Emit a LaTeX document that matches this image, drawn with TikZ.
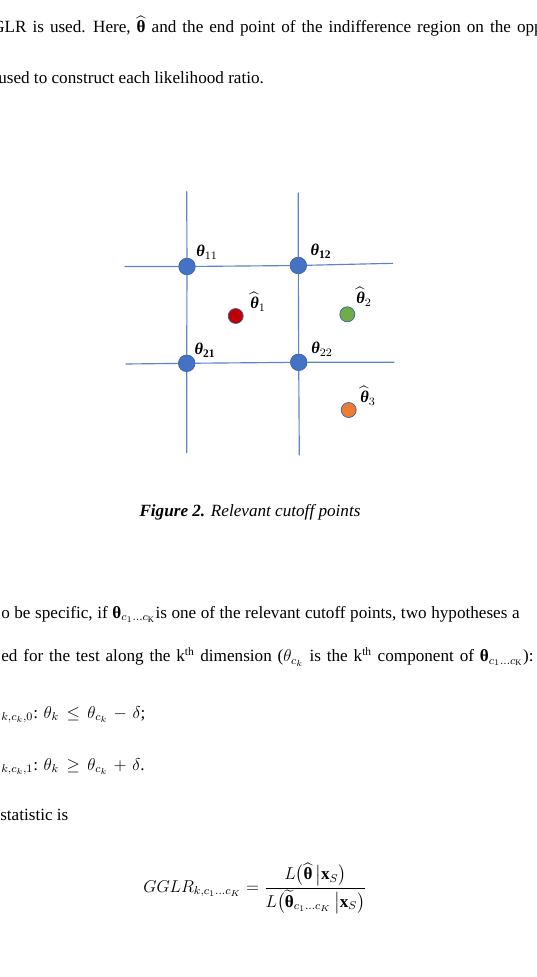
\documentclass[tikz,border=0pt]{standalone}
\usepackage{amsmath}
\usepackage{fontspec}
\setmainfont{Liberation Serif}
\usepackage{tikz}
\usetikzlibrary{positioning}

\definecolor{gridblue}{HTML}{5B85C7}
\definecolor{ptblue}{HTML}{4472C4}
\definecolor{ptedge}{HTML}{3A62A8}
\definecolor{ptred}{HTML}{C00000}
\definecolor{ptgreen}{HTML}{70AD47}
\definecolor{ptorange}{HTML}{ED7D31}

\newcommand{\btheta}{\text{\normalfont\bfseries θ}}
\newcommand{\bitheta}{\text{\normalfont\bfseries\itshape θ}}
% wider spacing round relations and binary signs
\newcommand{\widemath}{\thickmuskip=8mu\relax\medmuskip=6mu\relax}

\tikzset{
  gridline/.style={gridblue,line width=0.8pt},
  cutpt/.style={circle,fill=ptblue,draw=ptedge,line width=0.5pt,inner sep=0pt,minimum size=11.6pt},
  estpt/.style={circle,draw=ptedge,line width=0.5pt,inner sep=0pt,minimum size=10.5pt},
  ptlabel/.style={inner sep=0pt,font=\fontsize{11.5}{13}\selectfont},
  txtline/.style={anchor=base west,inner sep=0pt,font=\fontsize{12}{14}\selectfont}
}

\begin{document}
\begin{tikzpicture}[line cap=round,line join=round,x=0.7pt,y=-0.7pt]
\useasboundingbox (0,0) rectangle (537,977);
\fill[white] (0,0) rectangle (537,977);
\clip (0,0) rectangle (537,977);
% text above the figure (justified lines, so wider spaces)
\draw (-8,33) node[txtline] (top1) {\spaceskip=4.2pt\relax GLR is used. Here, $\widehat{\btheta}$ and the end point of the indifference region on the opp};
\draw (-2,83.5) node[txtline] (top2) {used to construct each likelihood ratio.};
% ends of the grid lines
\coordinate (v1t) at (186.7,191.7);
\coordinate (v1b) at (186.7,452.7);
\coordinate (v2t) at (298.3,193);
\coordinate (v2b) at (299.3,455);
\coordinate (h1w) at (125,266.5);
\coordinate (h1e) at (392.7,263.3);
\coordinate (h2w) at (126,364);
\coordinate (h2e) at (394,362.3);
% cutoff points
\node[cutpt] (t11) at (187,266.5) {};
\node[cutpt] (t12) at (298.3,265.5) {};
\node[cutpt] (t21) at (186.7,363.3) {};
\node[cutpt] (t22) at (298.7,362.3) {};
\draw[gridline] (v1t) -- (t11) -- (t21) -- (v1b);
\draw[gridline] (v2t) -- (t12) -- (t22) -- (v2b);
\draw[gridline] (h1w) -- (t11) -- (t12) -- (h1e);
\draw[gridline] (h2w) -- (t21) -- (t22) -- (h2e);
% estimates
\node[estpt,fill=ptred] (e1) at (235.7,316) {};
\node[estpt,fill=ptgreen] (e2) at (347.3,314.3) {};
\node[estpt,fill=ptorange] (e3) at (348.7,410) {};
% labels
\draw (207,252) node[ptlabel] (l11) {$\bitheta_{11}$};
\draw (321,251) node[ptlabel] (l12) {$\bitheta_{\mathbf{12}}$};
\draw (205,350) node[ptlabel] (l21) {$\bitheta_{\mathbf{21}}$};
\draw (322,349) node[ptlabel] (l22) {$\bitheta_{22}$};
\draw (258,302) node[ptlabel] (le1) {$\widehat{\bitheta}_1$};
\draw (364,297) node[ptlabel] (le2) {$\widehat{\bitheta}_2$};
\draw (368,396) node[ptlabel] (le3) {$\widehat{\bitheta}_3$};
% caption
\draw (250,516.7) node[txtline,anchor=base] (cap) {\textbf{\textit{Figure 2.}} \textit{Relevant cutoff points}};
% text below the figure
\draw (1,618.3) node[txtline] (bot1) {\spaceskip=3.2pt\relax o be specific, if $\btheta_{c_1\ldots c_{\mathrm{K}}}$is one of the relevant cutoff points, two hypotheses a};
\draw (1,661.7) node[txtline] (bot2) {\spaceskip=4.1pt\relax ed for the test along the k\textsuperscript{th} dimension ($\theta_{c_k}$ is the k\textsuperscript{th} component of $\btheta_{c_1\ldots c_{\mathrm{K}}}$):};
\draw (1,718.3) node[txtline] (hyp0) {\widemath${}_{k,c_k,0}$: $\theta_k \leq \theta_{c_k} - \delta$;};
\draw (1,770) node[txtline] (hyp1) {\widemath${}_{k,c_k,1}$: $\theta_k \geq \theta_{c_k} + \delta$.};
\draw (0,820) node[txtline] (bot3) {statistic is};
\draw (255,888) node[txtline,anchor=center] (eq) {$GGLR_{k,c_1\ldots c_K} = \dfrac{L\bigl(\widehat{\btheta}\,\big|\mathbf{x}_S\bigr)}{L\bigl(\widetilde{\btheta}_{c_1\ldots c_K}\,\big|\mathbf{x}_S\bigr)}$};
\end{tikzpicture}
\end{document}
